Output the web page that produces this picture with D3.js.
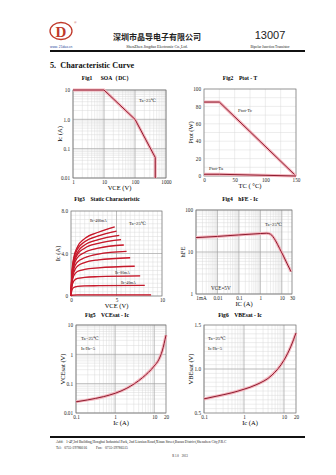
<!DOCTYPE html>
<html><head><meta charset="utf-8">
<script src="https://cdn.jsdelivr.net/npm/d3@7/dist/d3.min.js"></script>
<style>body{margin:0;background:#fff}svg{display:block}text{white-space:pre}</style>
</head><body>
<script>
// ---------- DATA ----------
// Fig1 SOA (DC)
const soaVce = [1, 10, 100, 450, 450];
const soaIc  = [10, 10, 1, 0.05, 0.01];
const fig1XTicks = [1, 10, 100, 1000];
const fig1XLabels = ["1", "10", "100", "1000"];
const fig1YTicks = [0.01, 0.1, 1, 10];
const fig1YLabels = ["0.01", "0.1", "1.0", "10"];
// Fig2 Ptot - T
const ptotT   = [0, 25, 150];
const ptotTc  = [85, 85, 0];
const ptotTa  = [2, 2, 0];
const fig2XTicks = [0, 50, 100, 150];
const fig2YTicks = [0, 20, 40, 60, 80, 100];
// Fig3 Static characteristic (Vce, Ic) per base current
const fig3Vce = [
  [0, 0.1, 0.3, 0.7, 1.5, 3, 4.8],
  [0, 0.1, 0.3, 0.7, 1.5, 3, 5.0],
  [0, 0.1, 0.3, 0.7, 1.5, 3, 5.3],
  [0, 0.1, 0.3, 0.7, 1.5, 3, 5.5],
  [0, 0.1, 0.3, 0.7, 1.5, 3, 5.8],
  [0, 0.1, 0.3, 0.7, 1.5, 3, 6.1],
  [0, 0.1, 0.3, 0.7, 1.5, 3, 6.5],
  [0, 0.1, 0.3, 0.7, 1.5, 3, 7.0],
  [0, 0.1, 0.3, 0.7, 1.5, 3, 7.6],
  [0, 0.1, 0.3, 0.7, 1.5, 3, 8.1],
  [0, 0.1, 0.3, 0.7, 1.5, 3, 8.8]
];
const fig3Ic = [
  [0, 2.2, 3.6, 4.6, 5.4, 6.0, 6.5],
  [0, 2.0, 3.4, 4.4, 5.1, 5.65, 6.1],
  [0, 1.9, 3.2, 4.1, 4.8, 5.3, 5.7],
  [0, 1.8, 3.0, 3.9, 4.5, 4.95, 5.3],
  [0, 1.7, 2.8, 3.6, 4.1, 4.5, 4.8],
  [0, 1.5, 2.5, 3.2, 3.6, 3.95, 4.2],
  [0, 1.4, 2.2, 2.8, 3.15, 3.4, 3.6],
  [0, 1.2, 1.9, 2.3, 2.5, 2.65, 2.8],
  [0, 0.9, 1.4, 1.65, 1.75, 1.82, 1.9],
  [0, 0.55, 0.8, 0.9, 0.95, 0.97, 1.0],
  [0, 0.07, 0.09, 0.1, 0.1, 0.1, 0.1]
];
const fig3XTicks = [0, 5, 10];
const fig3YTicks = [0, 4, 8];
const fig3YLabels = ["0", "4.0", "8.0"];
// Fig4 hFE - Ic
const hfeIc  = [0.001, 0.01, 0.1, 1, 2, 3, 5, 8, 12, 18, 27];
const hfeVal = [22, 23.5, 25.5, 27.5, 28, 26.5, 19, 12, 8, 5.2, 3.4];
const fig4XTicks = [0.001, 0.01, 0.1, 1, 10, 30];
const fig4XLabels = ["1mA", "0.01", "0.1", "1", "10", "30"];
const fig4YTicks = [1, 10, 100];
// Fig5 VCEsat - Ic
const vcesatIc = [0.1, 0.2, 0.5, 1, 2, 5, 10, 13, 16, 20];
const vcesatV  = [0.024, 0.028, 0.036, 0.047, 0.07, 0.16, 0.4, 0.65, 1.3, 4.5];
const fig5XTicks = [0.1, 1, 10, 20];
const fig5YTicks = [0.01, 0.1, 1, 10];
// Fig6 VBEsat - Ic
const vbesatIc = [0.1, 0.2, 0.5, 1, 2, 5, 10, 15, 20];
const vbesatV  = [0.66, 0.69, 0.73, 0.77, 0.82, 0.93, 1.1, 1.26, 1.41];
const fig6XTicks = [0.1, 1, 10, 20];
const fig6YTicks = [0.5, 1.0, 1.5];

// ---------- DRAW ----------
const W = 336, H = 475;
const svg = d3.select("body").append("svg").attr("width", W).attr("height", H);
const SERIF = "'Liberation Serif', 'DejaVu Serif', serif";
const zip = (a, b) => a.map((v, i) => [v, b[i]]);

function gridLines(g, x, y, xs, ys, color, w) {
  const [x0, x1] = x.range(), [y0, y1] = y.range();
  g.selectAll(null).data(xs).enter().append("line")
    .attr("x1", d => x(d)).attr("x2", d => x(d)).attr("y1", y0).attr("y2", y1)
    .attr("stroke", color).attr("stroke-width", w);
  g.selectAll(null).data(ys).enter().append("line")
    .attr("y1", d => y(d)).attr("y2", d => y(d)).attr("x1", x0).attr("x2", x1)
    .attr("stroke", color).attr("stroke-width", w);
}

function panel(c) {
  const g = svg.append("g");
  const x = c.x, y = c.y;
  gridLines(g, x, y, c.xMinor, c.yMinor, "#d6d6d6", 0.45);
  gridLines(g, x, y, c.xMajor, c.yMajor, "#9a9a9a", 0.55);
  const [x0, x1] = x.range(), [y0, y1] = y.range();
  g.append("rect").attr("x", x0).attr("y", y1).attr("width", x1 - x0).attr("height", y0 - y1)
    .attr("fill", "none").attr("stroke", "#777").attr("stroke-width", 0.7);
  const ax = g.append("g").attr("transform", `translate(0,${y0 + 1})`)
    .call(d3.axisBottom(x).tickValues(c.xTicks).tickFormat((d, i) => c.xLabels[i]).tickSize(0).tickPadding(1));
  const ay = g.append("g").attr("transform", `translate(${x0 - 1},0)`)
    .call(d3.axisLeft(y).tickValues(c.yTicks).tickFormat((d, i) => c.yLabels[i]).tickSize(0).tickPadding(2));
  [ax, ay].forEach(a => {
    a.select(".domain").remove();
    a.selectAll("text").attr("font-family", SERIF).attr("font-size", 5.2).attr("fill", "#222");
  });
  svg.append("text").attr("x", c.tx).attr("y", c.ty).attr("text-anchor", "middle")
    .attr("font-family", SERIF).attr("font-weight", "bold").attr("font-size", 5.6).text(c.title);
  svg.append("text").attr("x", (x0 + x1) / 2).attr("y", y0 + 12).attr("text-anchor", "middle")
    .attr("font-family", SERIF).attr("font-size", 6.5).text(c.xTitle);
  svg.append("text").attr("transform", `translate(${x0 - 11},${(y0 + y1) / 2}) rotate(-90)`)
    .attr("text-anchor", "middle").attr("font-family", SERIF).attr("font-size", 6.5).text(c.yTitle);
  return {g, ax, ay};
}

function drawCurve(g, x, y, pts, curve) {
  const line = d3.line().x(d => x(d[0])).y(d => y(d[1])).curve(curve || d3.curveLinear);
  g.append("path").attr("d", line(pts)).attr("fill", "none").attr("stroke", "#f3b3bc").attr("stroke-width", 3);
  g.append("path").attr("d", line(pts)).attr("fill", "none").attr("stroke", "#8e1b2e").attr("stroke-width", 1);
}
function label(x, y, t, size, anchor) {
  return svg.append("text").attr("x", x).attr("y", y).attr("font-family", SERIF)
    .attr("font-size", size || 5).attr("text-anchor", anchor || "start").attr("fill", "#222").text(t);
}
const decades = (lo, hi) => { const r = []; for (let v = lo; v <= hi * 1.0001; v *= 10) r.push(v); return r; };

// ---------- HEADER ----------
svg.append("ellipse").attr("cx", 61).attr("cy", 31).attr("rx", 11).attr("ry", 8.5)
  .attr("fill", "none").attr("stroke", "#c0392b").attr("stroke-width", 1.3);
svg.append("text").attr("x", 61).attr("y", 36.5).attr("text-anchor", "middle").attr("font-family", SERIF)
  .attr("font-weight", "bold").attr("font-size", 15).attr("fill", "#c0392b").text("D");
svg.append("text").attr("x", 74).attr("y", 24).attr("font-family", SERIF).attr("font-size", 3.5).attr("fill", "#c0392b").text("®");
svg.append("text").attr("x", 50).attr("y", 47.5).attr("font-family", "Liberation Sans").attr("font-size", 3.3)
  .attr("fill", "#2a4aa0").text("www. 21dao.cn");
svg.append("text").attr("x", 157).attr("y", 40).attr("text-anchor", "middle").attr("font-family", "'Noto Sans CJK SC'")
  .attr("font-weight", "bold").attr("font-size", 8).attr("fill", "#222").text("深圳市晶导电子有限公司");
svg.append("text").attr("x", 157).attr("y", 48).attr("text-anchor", "middle").attr("font-family", SERIF)
  .attr("font-size", 4).attr("fill", "#222").text("ShenZhen Jingdao Electronic Co.,Ltd.");
svg.append("text").attr("x", 270).attr("y", 39).attr("text-anchor", "middle").attr("font-family", "Liberation Sans")
  .attr("font-size", 11).attr("fill", "#222").text("13007");
svg.append("text").attr("x", 270).attr("y", 48).attr("text-anchor", "middle").attr("font-family", SERIF)
  .attr("font-size", 3.6).attr("fill", "#222").text("Bipolar Junction Transistor");
svg.append("line").attr("x1", 50).attr("x2", 305).attr("y1", 51).attr("y2", 51).attr("stroke", "#111").attr("stroke-width", 2);

svg.append("text").attr("x", 50).attr("y", 68).attr("font-family", SERIF).attr("font-weight", "bold")
  .attr("font-size", 8.2).attr("fill", "#111").text("5.  Characteristic Curve");

// ---------- FIG1 ----------
{
  const x = d3.scaleLog().domain([1, 1000]).range([73, 166]);
  const y = d3.scaleLog().domain([0.01, 10]).range([178, 90]);
  const {g} = panel({x, y, xMinor: x.ticks(), yMinor: y.ticks(), xMajor: decades(1, 1000), yMajor: decades(0.01, 10),
    xTicks: fig1XTicks, xLabels: fig1XLabels, yTicks: fig1YTicks, yLabels: fig1YLabels,
    title: "Fig1      SOA（DC）", tx: 107, ty: 80, xTitle: "VCE (V)", yTitle: "Ic (A)"});
  drawCurve(g, x, y, zip(soaVce, soaIc));
  label(139, 102, "Ta=25℃", 4.6);
}
// ---------- FIG2 ----------
{
  const x = d3.scaleLinear().domain([0, 150]).range([204, 296]);
  const y = d3.scaleLinear().domain([0, 100]).range([176, 89]);
  const {g} = panel({x, y, xMinor: d3.range(0, 151, 25), yMinor: d3.range(0, 101, 10), xMajor: [], yMajor: [],
    xTicks: fig2XTicks, xLabels: fig2XTicks.map(String), yTicks: fig2YTicks, yLabels: fig2YTicks.map(String),
    title: "Fig2    Ptot - T", tx: 240, ty: 80, xTitle: "TC ( °C)", yTitle: "Ptot (W)"});
  drawCurve(g, x, y, zip(ptotT, ptotTc));
  drawCurve(g, x, y, zip(ptotT, ptotTa));
  label(238, 112, "Ptot-Tc", 4.8);
  label(209, 170, "Ptot-Ta", 4.8);
}
// ---------- FIG3 ----------
{
  const x = d3.scaleLinear().domain([0, 10]).range([71, 162]);
  const y = d3.scaleLinear().domain([0, 8]).range([296, 211]);
  const {g} = panel({x, y, xMinor: d3.range(0, 10.01, 0.5), yMinor: d3.range(0, 8.01, 0.4), xMajor: [5], yMajor: [4],
    xTicks: fig3XTicks, xLabels: fig3XTicks.map(String), yTicks: fig3YTicks, yLabels: fig3YLabels,
    title: "Fig3    Static Characteristic", tx: 107, ty: 201, xTitle: "VCE (V)", yTitle: "Ic (A)"});
  const line = d3.line().x(d => x(d[0])).y(d => y(d[1])).curve(d3.curveMonotoneX);
  fig3Vce.forEach((vs, k) => {
    const pts = zip(vs, fig3Ic[k]);
    g.append("path").attr("d", line(pts)).attr("fill", "none").attr("stroke", "#e01d2f").attr("stroke-width", 1.3);
    g.append("path").attr("d", line(pts)).attr("fill", "none").attr("stroke", "#7d1424").attr("stroke-width", 0.5).attr("opacity", 0.7);
  });
  label(90, 222, "Ib=400mA", 3.8);
  label(115, 274, "Ib=80mA", 3.8);
  label(121, 284, "Ib=40mA", 3.8);
  label(129, 225, "Ta=25℃", 4.6);
}
// ---------- FIG4 ----------
{
  const x = d3.scaleLog().domain([0.001, 30]).range([196, 292]);
  const y = d3.scaleLog().domain([1, 100]).range([294, 210]);
  const {g, ax} = panel({x, y, xMinor: x.ticks(), yMinor: y.ticks(), xMajor: decades(0.001, 10), yMajor: decades(1, 100),
    xTicks: fig4XTicks, xLabels: fig4XLabels, yTicks: fig4YTicks, yLabels: fig4YTicks.map(String),
    title: "Fig4    hFE - Ic", tx: 240, ty: 201, xTitle: "IC (A)", yTitle: "hFE"});
  ax.selectAll("text").filter((d, i) => i === 0).attr("dx", 5);
  drawCurve(g, x, y, zip(hfeIc, hfeVal), d3.curveMonotoneX);
  label(265, 226, "Ta=25℃", 4.6);
  label(211, 290, "VCE=5V", 5.2);
}
// ---------- FIG5 ----------
{
  const x = d3.scaleLog().domain([0.1, 20]).range([76, 166]);
  const y = d3.scaleLog().domain([0.01, 10]).range([413, 325]);
  const {g} = panel({x, y, xMinor: x.ticks(), yMinor: y.ticks(), xMajor: decades(0.1, 10), yMajor: decades(0.01, 10),
    xTicks: fig5XTicks, xLabels: fig5XTicks.map(String), yTicks: fig5YTicks, yLabels: fig5YTicks.map(String),
    title: "Fig5    VCEsat - Ic", tx: 107, ty: 317, xTitle: "Ic (A)", yTitle: "VCEsat (V)"});
  drawCurve(g, x, y, zip(vcesatIc, vcesatV), d3.curveMonotoneX);
  label(81, 340, "Ta=25℃", 4.8);
  label(81, 350, "Ic/Ib=5", 4.8);
}
// ---------- FIG6 ----------
{
  const x = d3.scaleLog().domain([0.1, 20]).range([204, 296]);
  const y = d3.scaleLinear().domain([0.5, 1.5]).range([413, 325]);
  const {g} = panel({x, y, xMinor: x.ticks(), yMinor: d3.range(0.5, 1.501, 0.05), xMajor: decades(0.1, 10), yMajor: [1.0],
    xTicks: fig6XTicks, xLabels: fig6XTicks.map(String), yTicks: fig6YTicks, yLabels: ["0.5", "1.0", "1.5"],
    title: "Fig6    VBEsat - Ic", tx: 240, ty: 317, xTitle: "Ic (A)", yTitle: "VBEsat (V)"});
  drawCurve(g, x, y, zip(vbesatIc, vbesatV), d3.curveMonotoneX);
  label(208, 340, "Ta=25℃", 4.8);
  label(208, 350, "Ic/Ib=5", 4.8);
}

// ---------- FOOTER ----------
svg.append("line").attr("x1", 50).attr("x2", 305).attr("y1", 437).attr("y2", 437).attr("stroke", "#111").attr("stroke-width", 2);
label(56, 443, "Add:   1-4F,3rd Building,Honghui Industrial Park, 2nd Liuxian Road,Xinan Street,Baoan District,Shenzhen City,P.R.C", 3.6);
label(56, 449, "Tel:   0755-29786016          Fax:   0755-29786515", 3.6);
label(180, 457, "R 1.0    2013", 3, "middle");
</script>
</body></html>
